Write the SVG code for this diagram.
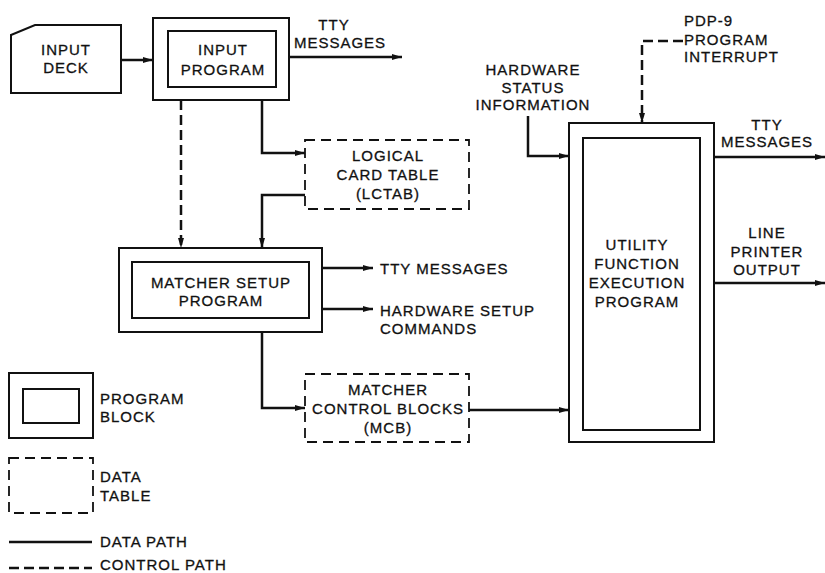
<svg xmlns="http://www.w3.org/2000/svg" width="825" height="573" viewBox="0 0 825 573">
<defs>
<marker id="ah" viewBox="0 0 10 6" refX="10" refY="3" markerWidth="11" markerHeight="6" markerUnits="userSpaceOnUse" orient="auto">
<path d="M0,0 L10,3 L0,6 Z" fill="#111"/>
</marker>
</defs>
<style>
text{font-family:"Liberation Sans",Arial,sans-serif;font-size:15px;letter-spacing:1px;fill:#111;stroke:#111;stroke-width:0.3}
.c{text-anchor:middle}
.box{fill:none;stroke:#111;stroke-width:2}
.dbox{fill:none;stroke:#111;stroke-width:1.8;stroke-dasharray:10 6}
.ln{fill:none;stroke:#111;stroke-width:2.5}
.dl{fill:none;stroke:#111;stroke-width:2.5;stroke-dasharray:10 5}
</style>
<rect width="825" height="573" fill="#fff"/>

<g id="input-deck">
<path class="box" d="M11,35 L35,25 L121,25 L121,93 L11,93 Z"/>
<text class="c" x="66" y="55">INPUT</text>
<text class="c" x="66" y="73">DECK</text>
</g>

<g id="input-program">
<rect class="box" x="153" y="18" width="136" height="82"/>
<rect class="box" x="168" y="31" width="108" height="56"/>
<text class="c" x="223" y="55">INPUT</text>
<text class="c" x="223" y="75">PROGRAM</text>
</g>

<g id="lctab">
<rect class="dbox" x="305" y="140" width="164" height="69"/>
<text class="c" x="388" y="161">LOGICAL</text>
<text class="c" x="388" y="180">CARD TABLE</text>
<text class="c" x="388" y="199">(LCTAB)</text>
</g>

<g id="matcher-setup">
<rect class="box" x="119" y="248" width="203" height="84"/>
<rect class="box" x="132" y="262" width="177" height="56"/>
<text class="c" x="221" y="288">MATCHER SETUP</text>
<text class="c" x="221" y="306">PROGRAM</text>
</g>

<g id="mcb">
<rect class="dbox" x="305" y="374" width="164" height="68"/>
<text class="c" x="388" y="395">MATCHER</text>
<text class="c" x="388" y="414">CONTROL BLOCKS</text>
<text class="c" x="388" y="433">(MCB)</text>
</g>

<g id="utility">
<rect class="box" x="569" y="123" width="145" height="319"/>
<rect class="box" x="583" y="138" width="117" height="292"/>
<text class="c" x="637" y="250">UTILITY</text>
<text class="c" x="637" y="269">FUNCTION</text>
<text class="c" x="637" y="288">EXECUTION</text>
<text class="c" x="637" y="307">PROGRAM</text>
</g>

<g id="labels">
<text class="c" x="334" y="30">TTY</text>
<text class="c" x="340" y="48">MESSAGES</text>
<text x="380" y="274">TTY MESSAGES</text>
<text x="380" y="316">HARDWARE SETUP</text>
<text x="380" y="334">COMMANDS</text>
<text class="c" x="533" y="75">HARDWARE</text>
<text class="c" x="533" y="93">STATUS</text>
<text class="c" x="533" y="110">INFORMATION</text>
<text x="684" y="26">PDP-9</text>
<text x="684" y="45">PROGRAM</text>
<text x="684" y="62">INTERRUPT</text>
<text class="c" x="767" y="130">TTY</text>
<text class="c" x="767" y="147">MESSAGES</text>
<text class="c" x="767" y="238">LINE</text>
<text class="c" x="767" y="257">PRINTER</text>
<text class="c" x="767" y="275">OUTPUT</text>
</g>

<g id="connectors">
<path class="ln" d="M121,60 L153,60" marker-end="url(#ah)"/>
<path class="ln" d="M289,57 L402,57" marker-end="url(#ah)"/>
<path class="dl" d="M181,100 L181,248" marker-end="url(#ah)"/>
<path class="ln" d="M262,100 L262,153 L305,153" marker-end="url(#ah)"/>
<path class="ln" d="M305,195 L262,195 L262,248" marker-end="url(#ah)"/>
<path class="ln" d="M322,268 L373,268" marker-end="url(#ah)"/>
<path class="ln" d="M322,309 L373,309" marker-end="url(#ah)"/>
<path class="ln" d="M262,332 L262,408 L305,408" marker-end="url(#ah)"/>
<path class="ln" d="M469,410 L569,410" marker-end="url(#ah)"/>
<path class="ln" d="M528,116 L528,156 L569,156" marker-end="url(#ah)"/>
<path class="dl" d="M683,41 L642,41 L642,123" marker-end="url(#ah)"/>
<path class="ln" d="M714,157 L825,157" marker-end="url(#ah)"/>
<path class="ln" d="M714,283 L825,283" marker-end="url(#ah)"/>
</g>

<g id="legend">
<rect class="box" x="9" y="373" width="84" height="65"/>
<rect class="box" x="23" y="389" width="56" height="34"/>
<text x="100" y="404">PROGRAM</text>
<text x="100" y="422">BLOCK</text>
<rect class="dbox" x="9" y="458" width="84" height="55"/>
<text x="100" y="482">DATA</text>
<text x="100" y="501">TABLE</text>
<path class="ln" d="M9,542 L92,542"/>
<text x="100" y="547">DATA PATH</text>
<path class="dl" d="M9,568 L92,568"/>
<text x="100" y="570">CONTROL PATH</text>
</g>
</svg>
